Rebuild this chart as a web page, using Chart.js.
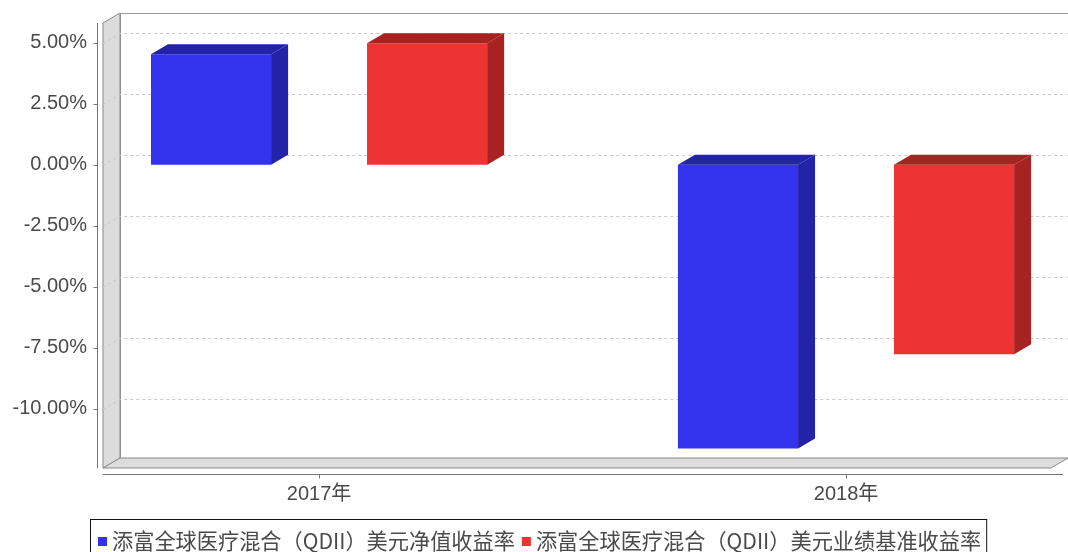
<!DOCTYPE html>
<html>
<head>
<meta charset="utf-8">
<script src="https://cdn.jsdelivr.net/npm/chart.js@4.4.0/dist/chart.umd.min.js"></script>
<style>
  html, body { margin: 0; padding: 0; background: #fff; }
  #wrap { width: 1068px; height: 552px; }
</style>
</head>
<body>
<div id="wrap"><canvas id="c"></canvas></div>
<script>
// Data
const categories = ['2017年', '2018年'];
const seriesNames = [
    '添富全球医疗混合（QDII）美元净值收益率',
    '添富全球医疗混合（QDII）美元业绩基准收益率'
];
const navReturn = [4.53, -11.64];
const benchReturn = [4.98, -7.77];
const yTicks = [5, 2.5, 0, -2.5, -5, -7.5, -10];

// Look
const frontColors = ['#3333ee', '#ee3333'];
const shadeColors = ['#2323a8', '#a82222'];
const DX = 17, DY = 10;   // 3D depth offset
const textColor = '#4a4a4a';
const tickFont = { family: "'Liberation Sans', 'Noto Sans CJK SC', sans-serif", size: 20 };
const legendFont = "21.2px 'Noto Sans CJK SC', sans-serif";

function poly(ctx, pts, fill, stroke) {
    ctx.beginPath();
    ctx.moveTo(pts[0][0], pts[0][1]);
    for (let i = 1; i < pts.length; i++) ctx.lineTo(pts[i][0], pts[i][1]);
    ctx.closePath();
    if (fill) { ctx.fillStyle = fill; ctx.fill(); }
    if (stroke) { ctx.strokeStyle = stroke; ctx.lineWidth = 1; ctx.stroke(); }
}

// back wall, left wall, floor and gridlines
const wallsPlugin = {
    id: 'walls',
    beforeDatasetsDraw(chart) {
        const { ctx, chartArea: a, scales: { x, y } } = chart;
        ctx.save();
        ctx.strokeStyle = '#999';
        ctx.lineWidth = 1;
        ctx.strokeRect(a.left + DX + 0.5, a.top - DY + 0.5, a.right - a.left, a.bottom - a.top);

        poly(ctx, [[a.left, a.top], [a.left + DX, a.top - DY], [a.left + DX, a.bottom - DY], [a.left, a.bottom]], '#dcdcdc', '#8a8a8a');
        poly(ctx, [[a.left, a.bottom], [a.left + DX, a.bottom - DY], [a.right + DX, a.bottom - DY], [a.right, a.bottom]], '#dcdcdc', '#8a8a8a');

        ctx.setLineDash([3, 3]);
        ctx.strokeStyle = '#c8c8c8';
        yTicks.forEach(v => {
            const py = Math.round(y.getPixelForValue(v)) + 0.5;
            ctx.beginPath();
            ctx.moveTo(a.left, py);
            ctx.lineTo(a.left + DX, py - DY);
            ctx.lineTo(a.right + DX, py - DY);
            ctx.stroke();
        });
        ctx.setLineDash([]);

        // axis lines and tick marks
        ctx.strokeStyle = '#777';
        const ax = a.left - 5.5;
        ctx.beginPath();
        ctx.moveTo(ax, a.top);
        ctx.lineTo(ax, a.bottom);
        yTicks.forEach(v => {
            const py = Math.round(y.getPixelForValue(v)) + 0.5;
            ctx.moveTo(ax - 4, py);
            ctx.lineTo(ax, py);
        });
        const ay = a.bottom + 6.5;
        ctx.moveTo(a.left, ay);
        ctx.lineTo(a.right + 12, ay);
        categories.forEach((c, i) => {
            const px = Math.round(x.getPixelForValue(i)) + 0.5;
            ctx.moveTo(px, ay);
            ctx.lineTo(px, ay + 4);
        });
        ctx.stroke();
        ctx.restore();
    },
    // top and side faces of the bars
    afterDatasetsDraw(chart) {
        const ctx = chart.ctx;
        ctx.save();
        chart.data.datasets.forEach((ds, di) => {
            chart.getDatasetMeta(di).data.forEach(bar => {
                const p = bar.getProps(['x', 'y', 'base', 'width'], true);
                const l = p.x - p.width / 2, r = p.x + p.width / 2;
                const t = Math.min(p.y, p.base), b = Math.max(p.y, p.base);
                poly(ctx, [[l, t], [l + DX, t - DY], [r + DX, t - DY], [r, t]], shadeColors[di]);
                poly(ctx, [[r, t], [r + DX, t - DY], [r + DX, b - DY], [r, b]], shadeColors[di]);
            });
        });
        ctx.restore();
    }
};

// boxed legend under the chart
const legendPlugin = {
    id: 'boxLegend',
    afterDraw(chart) {
        const ctx = chart.ctx;
        ctx.save();
        ctx.font = legendFont;
        ctx.textBaseline = 'middle';
        const cy = 541;
        let cx = 98;
        seriesNames.forEach((name, i) => {
            ctx.fillStyle = frontColors[i];
            ctx.fillRect(cx, cy - 4, 9, 9);
            cx += 14;
            ctx.fillStyle = textColor;
            ctx.fillText(name, cx, cy);
            cx += ctx.measureText(name).width + 7;
        });
        ctx.strokeStyle = '#111';
        ctx.lineWidth = 1;
        ctx.strokeRect(90.5, 519.5, cx - 90 - 2, 40);
        ctx.restore();
    }
};

const datasets = [navReturn, benchReturn].map((vals, i) => ({
    label: seriesNames[i],
    data: vals.map((v, k) => ({ x: k, y: v })),
    backgroundColor: frontColors[i],
    borderWidth: 0,
    categoryPercentage: 0.82,
    barPercentage: 0.556
}));

new Chart(document.getElementById('c'), {
    type: 'bar',
    data: { datasets },
    plugins: [wallsPlugin, legendPlugin],
    options: {
        responsive: true,
        maintainAspectRatio: false,
        animation: false,
        layout: { padding: { top: 23, right: 17, left: 0, bottom: 44 } },
        plugins: {
            legend: { display: false },
            tooltip: { enabled: false }
        },
        scales: {
            x: {
                type: 'linear',
                offset: false,
                min: -0.41,
                max: 1.389,
                grid: { display: false, drawTicks: false },
                border: { display: false },
                afterBuildTicks: s => { s.ticks = categories.map((c, i) => ({ value: i })); },
                afterFit: s => { s.height = 40; s.paddingLeft = 0; s.paddingRight = 0; },
                ticks: {
                    color: textColor,
                    font: tickFont,
                    padding: 14,
                    maxRotation: 0,
                    autoSkip: false,
                    callback: v => categories[v]
                }
            },
            y: {
                min: -12.44,
                max: 5.81,
                grid: { display: false, drawTicks: false },
                border: { display: false },
                afterBuildTicks: s => { s.ticks = yTicks.map(v => ({ value: v })); },
                afterFit: s => { s.width = 103; s.paddingTop = 0; s.paddingBottom = 0; },
                ticks: {
                    color: textColor,
                    font: tickFont,
                    padding: 16,
                    callback: v => v.toFixed(2) + '%'
                }
            }
        }
    }
});
</script>
</body>
</html>
